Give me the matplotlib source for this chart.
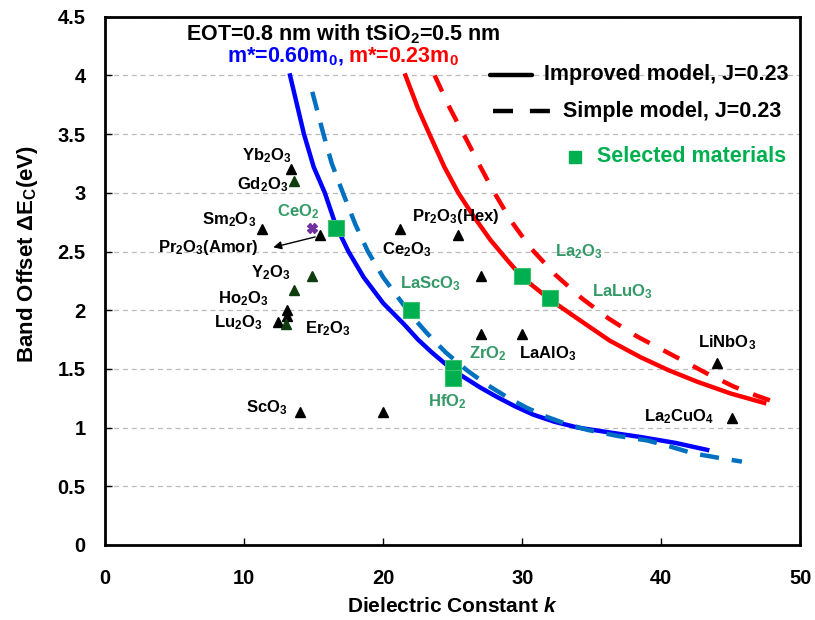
import matplotlib
matplotlib.use("Agg")
import matplotlib.pyplot as plt

plt.rcParams["font.family"] = ["Liberation Sans", "DejaVu Sans"]
plt.rcParams["font.weight"] = "bold"
plt.rcParams["mathtext.fontset"] = "custom"
plt.rcParams["mathtext.rm"] = "Liberation Sans:bold"
plt.rcParams["mathtext.it"] = "Liberation Sans:bold:italic"
plt.rcParams["mathtext.bf"] = "Liberation Sans:bold"
plt.rcParams["mathtext.default"] = "rm"

# model curves
blue_solid_k = [13.3, 13.8, 14.3, 15.0, 15.8, 16.6, 17.5, 18.6, 20.0, 21.5, 22.5, 23.5,
                25.0, 27.0, 28.2, 29.5, 30.8, 32.3, 34.0, 36.2, 38.5, 41.0, 43.3]
blue_solid_e = [4.0, 3.75, 3.5, 3.22, 3.0, 2.72, 2.5, 2.28, 2.06, 1.88, 1.75, 1.64,
                1.49, 1.34, 1.26, 1.18, 1.11, 1.05, 1.0, 0.96, 0.92, 0.87, 0.81]
blue_dash_k = [14.9, 15.7, 16.3, 17.1, 18.0, 18.9, 20.0, 21.0, 22.0, 23.1, 24.5, 26.0,
               27.4, 28.9, 30.3, 31.8, 33.2, 34.7, 36.8, 39.0, 40.6, 42.3, 44.0, 45.8]
blue_dash_e = [3.86, 3.5, 3.25, 3.0, 2.73, 2.5, 2.28, 2.12, 1.96, 1.81, 1.64, 1.49,
               1.37, 1.26, 1.17, 1.09, 1.03, 0.98, 0.93, 0.89, 0.84, 0.78, 0.745, 0.71]
red_solid_k = [21.6, 22.5, 23.4, 24.4, 25.4, 26.5, 27.7, 28.9, 30.0, 32.0, 34.2, 36.3,
               38.5, 40.5, 42.6, 45.0, 47.4]
red_solid_e = [4.0, 3.72, 3.48, 3.22, 3.0, 2.8, 2.6, 2.43, 2.28, 2.09, 1.91, 1.74,
               1.6, 1.49, 1.39, 1.29, 1.21]
red_dash_k = [23.7, 24.8, 26.0, 27.0, 27.9, 29.2, 30.6, 32.4, 34.3, 36.2, 38.2, 39.8,
              41.4, 43.3, 45.2, 46.9, 48.6]
red_dash_e = [4.0, 3.72, 3.45, 3.22, 3.02, 2.76, 2.53, 2.3, 2.1, 1.93, 1.78, 1.68,
              1.58, 1.46, 1.35, 1.27, 1.2]

# materials
black_k = [13.35, 11.3, 15.45, 13.1, 13.1, 12.4, 21.2, 25.4, 27.0, 27.0, 30.0, 44.0, 45.1, 14.0, 20.0]
black_e = [3.2, 2.69, 2.64, 2.0, 1.95, 1.9, 2.69, 2.64, 2.29, 1.80, 1.80, 1.55, 1.08, 1.13, 1.13]
dkgreen_k = [13.55, 14.9, 13.6, 13.0]
dkgreen_e = [3.1, 2.29, 2.17, 1.88]
purple_k = [14.9]
purple_e = [2.7]
sel_k = [16.6, 22.0, 25.0, 25.0, 30.0, 32.0]
sel_e = [2.70, 2.0, 1.51, 1.42, 2.29, 2.10]

BLACK_LABELS = [
    ("Yb$_2$O$_3$", 11.6, 3.32),
    ("Gd$_2$O$_3$", 11.3, 3.07),
    ("Sm$_2$O$_3$", 8.9, 2.77),
    ("Y$_2$O$_3$", 11.9, 2.32),
    ("Ho$_2$O$_3$", 9.9, 2.10),
    ("Lu$_2$O$_3$", 9.6, 1.89),
    ("Er$_2$O$_3$", 16.0, 1.84),
    ("Pr$_2$O$_3$(Hex)", 25.2, 2.80),
    ("Ce$_2$O$_3$", 21.7, 2.52),
    ("LaAlO$_3$", 31.8, 1.63),
    ("LiNbO$_3$", 44.7, 1.72),
    ("La$_2$CuO$_4$", 41.25, 1.09),
    ("ScO$_3$", 11.6, 1.17),
]
GREEN_LABELS = [
    ("CeO$_2$", 13.9, 2.84),
    ("LaScO$_3$", 23.4, 2.23),
    ("ZrO$_2$", 27.5, 1.63),
    ("HfO$_2$", 24.6, 1.22),
    ("La$_2$O$_3$", 34.05, 2.50),
    ("LaLuO$_3$", 37.2, 2.16),
]

fig = plt.figure(figsize=(8.15, 6.2), dpi=100)
ax = fig.add_axes([0.129, 0.121, 0.853, 0.852])

ax.plot(blue_solid_k, blue_solid_e, color="#0000FF", lw=3.2, solid_joinstyle="round", zorder=3)
ax.plot(blue_dash_k, blue_dash_e, color="#0070C0", lw=3.2, dashes=(4.3, 2.9), zorder=3)
ax.plot(red_solid_k, red_solid_e, color="#FF0000", lw=3.2, solid_joinstyle="round", zorder=3)
ax.plot(red_dash_k, red_dash_e, color="#FF0000", lw=3.2, dashes=(4.0, 3.5), zorder=3)

ax.plot(black_k, black_e, "^", color="black", ms=7, zorder=4)
ax.plot(dkgreen_k, dkgreen_e, "^", color="#0F3D0F", ms=7, zorder=4)
ax.plot(purple_k, purple_e, "X", color="#7030A0", ms=7, zorder=4)
ax.plot(sel_k, sel_e, "s", color="#00B050", mec="#3CC070", mew=0.8, ms=11, zorder=5)

for txt, x, y in BLACK_LABELS:
    ax.text(x, y, txt, fontsize=12, color="black", ha="center", va="center")
for txt, x, y in GREEN_LABELS:
    ax.text(x, y, txt, fontsize=12, color="#339966", ha="center", va="center")

ax.text(11.0, 2.53, "Pr$_2$O$_3$(Amor)", fontsize=12, ha="right", va="center")
ax.annotate("", xy=(11.9, 2.53), xytext=(15.3, 2.63),
            arrowprops=dict(arrowstyle="-|>", color="black", lw=1.0, mutation_scale=12))

ax.text(17.15, 4.35, "EOT=0.8 nm with tSiO$_2$=0.5 nm", fontsize=15.5, ha="center", va="center")
ax.text(17.15, 4.16, "m*=0.60m$_0$,", fontsize=15.5, color="#0000FF", ha="right", va="center")
ax.text(17.45, 4.16, "m*=0.23m$_0$", fontsize=15.5, color="#FF0000", ha="left", va="center")

# legend, drawn by hand (right-aligned like the original)
tr = ax.transAxes
ax.plot([0.554, 0.614], [0.890, 0.890], color="black", lw=3.2, transform=tr, solid_capstyle="round")
ax.text(0.632, 0.890, "Improved model, J=0.23", fontsize=15.5, transform=tr, va="center")
ax.plot([0.558, 0.643], [0.821, 0.821], color="black", lw=3.2, dashes=(4.5, 3.8), transform=tr)
ax.text(0.659, 0.821, "Simple model, J=0.23", fontsize=15.5, transform=tr, va="center")
ax.plot([0.676], [0.735], "s", color="#00B050", ms=9, transform=tr)
ax.text(0.708, 0.735, "Selected materials", fontsize=15.5, color="#00B050", transform=tr, va="center")

ax.set_xlim(0, 50)
ax.set_ylim(0, 4.5)
ax.set_xticks([0, 10, 20, 30, 40, 50])
ax.set_yticks([0, 0.5, 1, 1.5, 2, 2.5, 3, 3.5, 4, 4.5])
ax.set_yticklabels(["0", "0.5", "1", "1.5", "2", "2.5", "3", "3.5", "4", "4.5"])
ax.tick_params(axis="both", direction="in", length=5, width=1, labelsize=14.5)
ax.tick_params(axis="x", pad=17)
ax.tick_params(axis="y", pad=14)
ax.grid(axis="y", color="#BBBBBB", lw=0.9, ls=(0, (4, 3)))
ax.set_axisbelow(True)
for sp in ax.spines.values():
    sp.set_linewidth(2)

ax.set_xlabel(r"Dielectric Constant $\mathit{k}$", fontsize=15, fontweight="bold", labelpad=7)
ax.set_ylabel(r"Band Offset $\Delta$E$_C$(eV)", fontsize=16, fontweight="bold")
ax.yaxis.set_label_coords(-0.0935, 0.55)

fig.savefig("out.png", dpi=100)
